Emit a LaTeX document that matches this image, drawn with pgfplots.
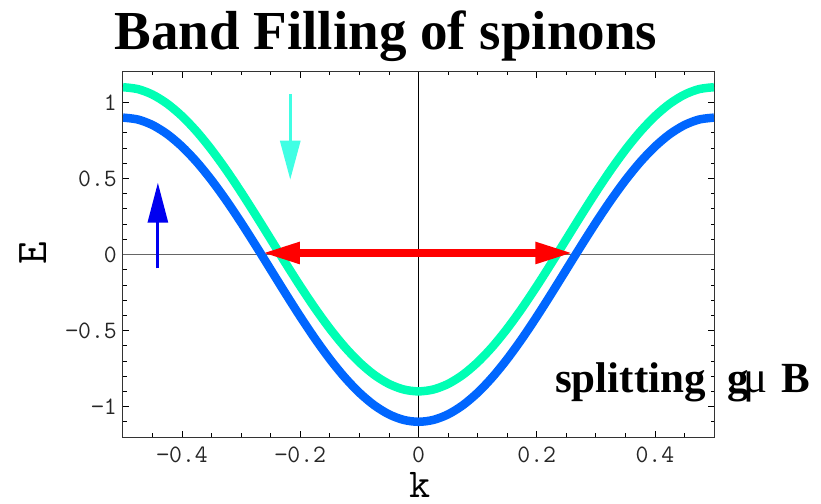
\documentclass[border=0pt]{standalone}
\usepackage{fontspec}
\setmainfont{Liberation Serif}
\usepackage{pgfplots}
\usepackage{pgfplotstable}
\pgfplotsset{compat=1.18}
\usetikzlibrary{arrows.meta}

\definecolor{upband}{RGB}{0,255,180}
\definecolor{downband}{RGB}{0,102,255}
\definecolor{downarrow}{RGB}{64,255,228}
\definecolor{uparrow}{RGB}{0,0,240}

% spinon dispersion E(k) for the two spin species, split by g mu B
\pgfplotstableread{
k       lower     upper
-0.500   0.9000   1.1000
-0.475   0.8877   1.0877
-0.450   0.8511   1.0511
-0.425   0.7910   0.9910
-0.400   0.7090   0.9090
-0.375   0.6071   0.8071
-0.350   0.4878   0.6878
-0.325   0.3540   0.5540
-0.300   0.2090   0.4090
-0.275   0.0564   0.2564
-0.250  -0.1000   0.1000
-0.225  -0.2564  -0.0564
-0.200  -0.4090  -0.2090
-0.175  -0.5540  -0.3540
-0.150  -0.6878  -0.4878
-0.125  -0.8071  -0.6071
-0.100  -0.9090  -0.7090
-0.075  -0.9910  -0.7910
-0.050  -1.0511  -0.8511
-0.025  -1.0877  -0.8877
 0.000  -1.1000  -0.9000
 0.025  -1.0877  -0.8877
 0.050  -1.0511  -0.8511
 0.075  -0.9910  -0.7910
 0.100  -0.9090  -0.7090
 0.125  -0.8071  -0.6071
 0.150  -0.6878  -0.4878
 0.175  -0.5540  -0.3540
 0.200  -0.4090  -0.2090
 0.225  -0.2564  -0.0564
 0.250  -0.1000   0.1000
 0.275   0.0564   0.2564
 0.300   0.2090   0.4090
 0.325   0.3540   0.5540
 0.350   0.4878   0.6878
 0.375   0.6071   0.8071
 0.400   0.7090   0.9090
 0.425   0.7910   0.9910
 0.450   0.8511   1.0511
 0.475   0.8877   1.0877
 0.500   0.9000   1.1000
}\bands

\begin{document}
\begin{tikzpicture}
\begin{axis}[
  at={(123pt,66pt)}, anchor=south west,
  scale only axis, width=591pt, height=365pt,
  xmin=-0.5, xmax=0.5, ymin=-1.2, ymax=1.2,
  xtick={-0.4,-0.2,0,0.2,0.4},
  xticklabels={−0.4,−0.2,0,0.2,0.4},
  ytick={-1,-0.5,0,0.5,1},
  yticklabels={−1,−0.5,0,0.5,1},
  minor xtick={-0.45,-0.35,-0.3,-0.25,-0.15,-0.1,-0.05,0.05,0.1,0.15,0.25,0.3,0.35,0.45},
  minor ytick={-1.1,-0.9,-0.8,-0.7,-0.6,-0.4,-0.3,-0.2,-0.1,0.1,0.2,0.3,0.4,0.6,0.7,0.8,0.9,1.1},
  tick align=inside,
  major tick length=6pt, minor tick length=3.5pt,
  tick style={black, line width=0.8pt},
  axis line style={black!80, line width=1pt},
  ticklabel style={font=\ttfamily\fontsize{25}{25}\selectfont, text=black!85},
  xticklabel style={inner sep=0pt, anchor=north, yshift=-10pt},
  yticklabel style={inner sep=0pt, anchor=east, xshift=-6pt},
  xlabel={k}, ylabel={E},
  label style={font=\ttfamily\fontsize{44}{44}\selectfont, inner sep=0pt},
  xlabel style={font=\ttfamily\fontsize{41}{41}\selectfont,
    at={(axis description cs:0.5025,-0.165)}, anchor=base},
  ylabel style={at={(axis description cs:-0.152,0.504)}, anchor=center},
  clip=true,
]
% coordinate axes through the origin
\addplot[black!60, line width=1pt] coordinates {(-0.5,0) (0.5,0)};
\addplot[black, line width=0.8pt] coordinates {(0,-1.2) (0,1.2)};

% the two spinon bands
\addplot[downband, line width=8.5pt, smooth] table[x=k, y=lower] {\bands};
\addplot[upband, line width=8.5pt, smooth] table[x=k, y=upper] {\bands};

% Fermi wave vectors
\addplot[red, line width=8pt,
  {Triangle[length=38pt, width=20pt]}-{Triangle[length=38pt, width=20pt]}]
  coordinates {(-0.265,0.01) (0.262,0.01)};

% spin direction markers
\addplot[downarrow, line width=3pt, -{Triangle[length=39pt, width=20pt]}]
  coordinates {(-0.217,1.056) (-0.217,0.492)};
\addplot[uparrow, line width=3pt, -{Triangle[length=40pt, width=20pt]}]
  coordinates {(-0.441,-0.092) (-0.441,0.472)};
\end{axis}

\node[anchor=base, font=\bfseries\fontsize{55}{55}\selectfont] at (386pt,453pt) {Band Filling of spinons};
\node[anchor=base west, inner sep=0pt, font=\bfseries\fontsize{43}{43}\selectfont] at (555pt,110pt) {splitting};
\node[anchor=base west, inner sep=0pt, font=\bfseries\fontsize{43}{43}\selectfont] at (727pt,110pt) {g};
\node[anchor=base west, inner sep=0pt, font=\fontsize{45}{45}\selectfont] at (743pt,110pt) {μ};
\node[anchor=base west, inner sep=0pt, font=\bfseries\fontsize{43}{43}\selectfont] at (781pt,110pt) {B};

\pgfresetboundingbox
\path[use as bounding box] (0,0) rectangle (821pt,503pt);
\end{tikzpicture}
\end{document}
